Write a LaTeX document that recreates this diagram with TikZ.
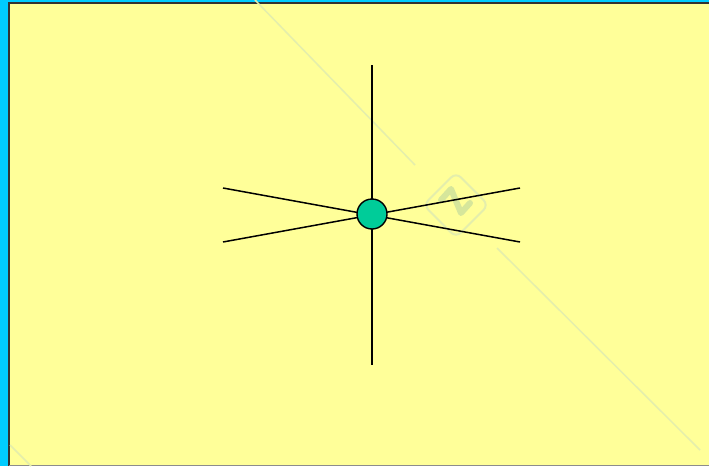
\documentclass[tikz,border=0pt]{standalone}
\definecolor{bgyellow}{RGB}{255,255,153}
\definecolor{framecyan}{RGB}{0,204,255}
\definecolor{hubteal}{RGB}{0,204,153}
\definecolor{wmark}{RGB}{228,238,172}
\definecolor{wmarkdark}{RGB}{214,230,155}
\tikzset{
  spoke/.style={line width=1.5pt, black},
  hub/.style={circle, draw=black, line width=1.4pt, fill=hubteal, minimum size=30pt, inner sep=0pt},
  wm/.style={wmark, line width=1.5pt}
}
\begin{document}
\begin{tikzpicture}[x=1pt,y=-1pt]
\useasboundingbox (0,0) rectangle (709,466);
\fill[framecyan] (0,0) rectangle (709,466);
\fill[bgyellow] (9,3) rectangle (709,466);
\draw[black!80, line width=2pt] (9,466) -- (9,3) -- (709,3);
\draw[black!45, line width=1pt] (9,465.5) -- (709,465.5);
% watermark
\draw[wm] (255,0) -- (415,165);
\draw[wm] (497,248) -- (700,450);
\draw[wm] (10,445) -- (31,466);
\draw[wm, rounded corners=7pt, line width=2pt, rotate around={45:(456,205)}] (433,182) rectangle (479,228);
\draw[wmarkdark, line width=6pt, line cap=round, line join=round] (441,200) -- (451,189) -- (461,213) -- (470,203);
% spokes
\coordinate (top) at (372,65);
\coordinate (bot) at (372,365);
\coordinate (lu) at (223,188);
\coordinate (rl) at (520,242);
\coordinate (ll) at (223,242);
\coordinate (ru) at (520,188);
\draw[spoke] (top) -- (bot);
\draw[spoke] (lu) -- (rl);
\draw[spoke] (ll) -- (ru);
\node[hub] (c) at (372,214) {};
\end{tikzpicture}
\end{document}
